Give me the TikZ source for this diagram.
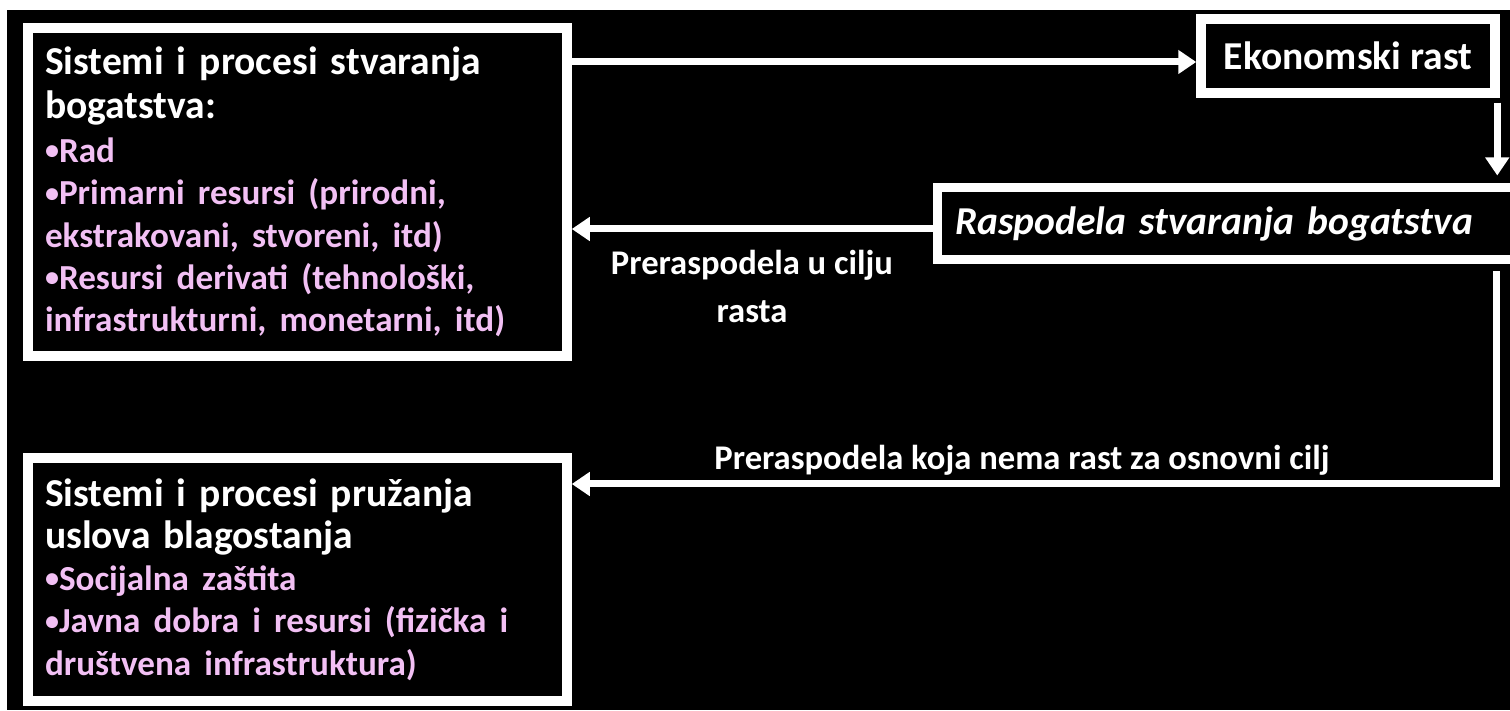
\documentclass[tikz,border=0pt]{standalone}
\usepackage{fontspec}
\setmainfont{Carlito}
\usepackage{xcolor}
\usetikzlibrary{positioning, arrows.meta}

\definecolor{bulpink}{RGB}{242,192,244}
\newcommand{\pinkline}[1]{{\color{bulpink}\fontsize{20}{24}\selectfont #1}}
\newcommand{\bul}[1]{\pinkline{\raisebox{0.08em}{\fontsize{16}{24}\selectfont\textbullet}#1}}

\begin{document}
\begin{tikzpicture}[
  every node/.style={font=\bfseries\fontsize{22.5}{24}\selectfont, text=white},
  arr/.style={-{Triangle[length=0.36cm, width=0.46cm]}, line width=0.14cm, white},
  bigbox/.style={draw=white, fill=black, line width=0.19cm,
                 minimum width=10.78cm, inner xsep=0.34cm,
                 text width=10.1cm, align=left},
  rastbox/.style={draw=white, fill=black, line width=0.19cm,
                  minimum width=5.88cm, minimum height=1.48cm, align=center},
  raspbox/.style={draw=white, fill=black, line width=0.18cm,
                  minimum width=11.56cm, minimum height=1.44cm, inner xsep=0.36cm,
                  text width=10.84cm, align=left},
  lbl/.style={font=\bfseries\fontsize{19.7}{23}\selectfont, inner sep=0pt, align=center}
]

% ---- Background ----
\useasboundingbox (0,0) rectangle (30.2,14.2);
\fill[white] (0,0) rectangle (30.2,14.2);
\fill[black] (0.14,0) rectangle (30.2,14.0);

% ---- Left column ----
\node[bigbox, minimum height=6.56cm] (wealth) at (5.95,10.36)
  {Sistemi i procesi stvaranja\\[1pt]
   bogatstva:\\[1pt]
   \bul{Rad}\\
   \bul{Primarni resursi (prirodni,}\\
   \pinkline{ekstrakovani, stvoreni, itd)}\\
   \bul{Resursi derivati (tehnološki,}\\
   \pinkline{infrastrukturni, monetarni, itd)}};

\node[bigbox, minimum height=4.86cm] (welfare) at (5.95,2.61)
  {Sistemi i procesi pružanja\\
   uslova blagostanja\\
   \bul{Socijalna zaštita}\\
   \bul{Javna dobra i resursi (fizička i}\\
   \pinkline{društvena infrastruktura)}};

% ---- Right column ----
\node[rastbox] (eko) at (26.96,13.08) {Ekonomski rast};
\node[raspbox] (rasp) at (24.52,9.72) {\itshape Raspodela stvaranja bogatstva};

% ---- Arrows ----
\draw[arr] ([yshift=-0.12cm]eko.west -| wealth.east) -- ([yshift=-0.12cm]eko.west);
\draw[arr, shorten <=0.1cm, shorten >=0.16cm]
  ([xshift=-0.05cm]eko.south east) -- ([xshift=-0.05cm]eko.south east |- rasp.north);
\draw[arr] ([yshift=-0.1cm]rasp.west) -- ([yshift=-0.1cm]rasp.west -| wealth.east);

\coordinate (turn) at (29.92,4.52);
\draw[arr] ([yshift=-0.14cm]turn |- rasp.south) -- (turn) -- (turn -| welfare.east);

% ---- Arrow labels ----
\node[lbl, anchor=north] (lup) at (15.04,9.2) {Preraspodela u cilju\\[4pt]rasta};
\node[lbl, anchor=base] (ldown) at (20.44,4.8) {Preraspodela koja nema rast za osnovni cilj};

\end{tikzpicture}
\end{document}
